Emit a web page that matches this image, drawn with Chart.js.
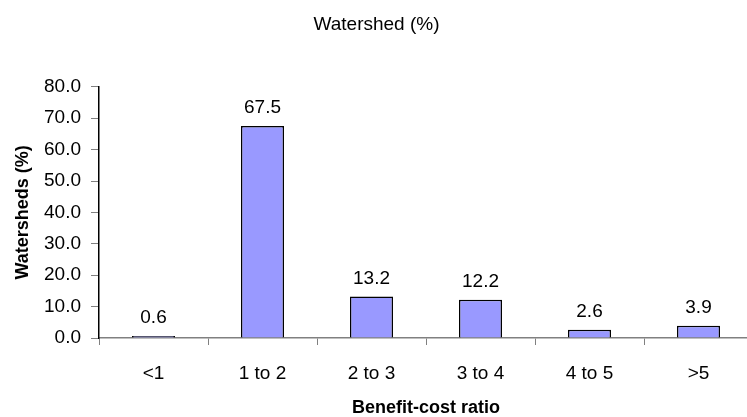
<!DOCTYPE html>
<html>
<head>
<meta charset="utf-8">
<script src="https://cdn.jsdelivr.net/npm/chart.js@4"></script>
<style>
  html, body { margin: 0; padding: 0; background: #fff; overflow: hidden; }
  #wrap { width: 753px; height: 417px; }
</style>
</head>
<body>
<div id="wrap"><canvas id="ws-chart" width="753" height="417"></canvas></div>
<script>
const categories = ['<1', '1 to 2', '2 to 3', '3 to 4', '4 to 5', '>5'];
const watershedPct = [0.6, 67.5, 13.2, 12.2, 2.6, 3.9];
const yTicks = [0, 10, 20, 30, 40, 50, 60, 70, 80];

const fontFamily = 'Arial, "Liberation Sans", sans-serif';

// value labels drawn above each bar
const barLabels = {
    id: 'barLabels',
    afterDatasetsDraw(chart) {
        const ctx = chart.ctx;
        const meta = chart.getDatasetMeta(0);
        ctx.save();
        ctx.font = '19px ' + fontFamily;
        ctx.fillStyle = '#000';
        ctx.textAlign = 'center';
        ctx.textBaseline = 'alphabetic';
        meta.data.forEach((bar, i) => {
            ctx.fillText(watershedPct[i].toFixed(1), bar.x, bar.y - 13);
        });
        ctx.restore();
    }
};

const wsChart = new Chart(document.getElementById('ws-chart'), {
    type: 'bar',
    data: {
        labels: categories,
        datasets: [
            {
                label: 'Watershed (%)',
                data: watershedPct,
                backgroundColor: '#9999FF',
                borderColor: '#000000',
                borderWidth: 1.5,
                barPercentage: 0.395,
                categoryPercentage: 1.0
            }
        ]
    },
    options: {
        responsive: false,
        animation: false,
        layout: { padding: { left: 0, right: 0, top: 0, bottom: 0 } },
        plugins: {
            legend: { display: false },
            tooltip: { enabled: false },
            title: {
                display: true,
                text: 'Watershed (%)',
                color: '#000',
                font: { family: fontFamily, size: 19, weight: 'normal' },
                padding: { top: 13, bottom: 51 }
            }
        },
        scales: {
            x: {
                afterFit: (s) => { s.height = 79; },
                grid: { display: true, drawOnChartArea: false, drawTicks: true, tickLength: 7, color: '#808080' },
                border: { display: true, color: '#808080', width: 1.5 },
                ticks: { color: '#000', padding: 17, font: { family: fontFamily, size: 19 } },
                title: {
                    display: true,
                    text: 'Benefit-cost ratio',
                    color: '#000',
                    font: { family: fontFamily, size: 18, weight: 'bold' },
                    padding: { top: 0, bottom: -2 }
                }
            },
            y: {
                min: 0,
                max: 80,
                afterFit: (s) => { s.width = 99; },
                afterBuildTicks: (s) => { s.ticks = yTicks.map(v => ({ value: v })); },
                grid: { display: true, drawOnChartArea: false, drawTicks: true, tickLength: 8, color: '#808080' },
                border: { display: true, color: '#000', width: 1.5 },
                ticks: {
                    color: '#000',
                    padding: 10,
                    font: { family: fontFamily, size: 19 },
                    callback: (v) => Number(v).toFixed(1)
                },
                title: {
                    display: true,
                    text: 'Watersheds (%)',
                    color: '#000',
                    font: { family: fontFamily, size: 18, weight: 'bold' },
                    padding: { top: 12, bottom: 0 }
                }
            }
        }
    },
    plugins: [barLabels]
});
</script>
</body>
</html>
